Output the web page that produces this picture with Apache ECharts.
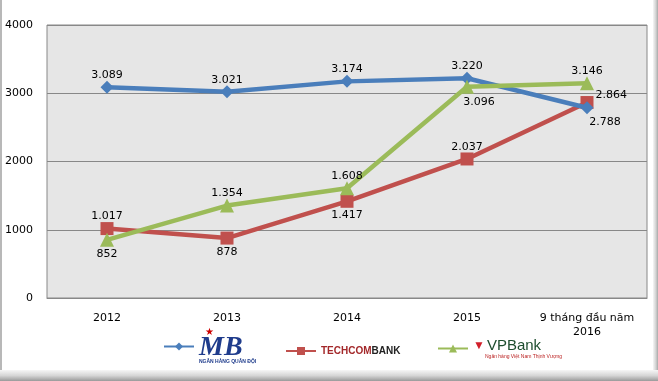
<!DOCTYPE html>
<html>
<head>
<meta charset="utf-8">
<script src="https://cdn.jsdelivr.net/npm/echarts@6/dist/echarts.min.js"></script>
<style>
html,body{margin:0;padding:0;background:#fff;}
#c{width:658px;height:381px;}
</style>
</head>
<body>
<div id="c"></div>
<script>
const categories = ['2012', '2013', '2014', '2015', '9 tháng đầu năm\n2016'];
const mbValues = [3089, 3021, 3174, 3220, 2788];
const tcbValues = [1017, 878, 1417, 2037, 2864];
const vpbValues = [852, 1354, 1608, 3096, 3146];
const yTicks = [0, 1000, 2000, 3000, 4000];

// label placement (style only)
const mbLabelPos = [['top',[0,2]],['top',[0,2]],['top',[0,2]],['top',[0,2]],['bottom',[18,0]]];
const tcbLabelPos = [['top',[0,2]],['bottom',[0,0]],['bottom',[0,0]],['top',[0,2]],['right',[0,-7]]];
const vpbLabelPos = [['bottom',[0,0]],['top',[0,2]],['top',[0,2]],['bottom',[12,1]],['top',[0,2]]];

function fmt(v){ return String(v).replace(/\B(?=(\d{3})+(?!\d))/g, '.'); }
function build(values, pos){
  return values.map((v,i)=>({value:v,label:{position:pos[i][0],offset:pos[i][1]}}));
}
const FONT = 'DejaVu Sans';
const labelStyle = {show:true, formatter:p=>fmt(p.value), color:'#000', fontFamily:FONT, fontSize:11, distance:2};

const chart = echarts.init(document.getElementById('c'), null, {renderer:'canvas'});
chart.setOption({
  animation:false,
  backgroundColor:'#fff',
  grid:{left:47, right:11, top:25, bottom:83, show:true, backgroundColor:'#e6e6e6', borderColor:'#888', borderWidth:1},
  xAxis:{type:'category', data:categories, boundaryGap:true,
    axisLine:{show:true, lineStyle:{color:'#888'}}, axisTick:{show:false},
    axisLabel:{color:'#000', fontFamily:FONT, fontSize:11, margin:13, lineHeight:14, interval:0}},
  yAxis:{type:'value', min:yTicks[0], max:yTicks[yTicks.length-1], interval:1000,
    axisLine:{show:false}, axisTick:{show:false},
    axisLabel:{color:'#000', fontFamily:FONT, fontSize:11, margin:14, formatter:v=>String(v)},
    splitLine:{show:true, lineStyle:{color:'#888', width:1}}},
  legend:[
    {data:['MB'], left:163, top:327, padding:0, itemWidth:30, itemHeight:10, itemGap:3,
     formatter:()=>'{s|★}\n{mb|MB}\n{sub|NGÂN HÀNG QUÂN ĐỘI}',
     textStyle:{rich:{s:{color:'#c00',fontSize:10,align:'left',padding:[0,0,0,6],lineHeight:9},
       mb:{color:'#1f3c8c',fontSize:28,fontWeight:'bold',fontStyle:'italic',fontFamily:'Liberation Serif',lineHeight:22},
       sub:{color:'#1f3c8c',fontSize:5,fontWeight:'bold',lineHeight:7}}}},
    {data:['Techcombank'], left:285, top:346, padding:0, itemWidth:30, itemHeight:10, itemGap:4,
     formatter:()=>'{a|TECHCOM}{b|BANK}',
     textStyle:{rich:{a:{color:'#a3282a',fontSize:10,fontWeight:'bold',fontFamily:'Liberation Sans'},
       b:{color:'#222',fontSize:10,fontWeight:'bold',fontFamily:'Liberation Sans'}}}},
    {data:['VPBank'], left:437, top:338, padding:0, itemWidth:30, itemHeight:10, itemGap:4,
     formatter:()=>'{i|▼}{a|VPBank}\n{sub|Ngân hàng Việt Nam Thịnh Vượng}',
     textStyle:{rich:{i:{color:'#d11f2a',fontSize:12,padding:[0,2,0,0]},a:{color:'#1d4d2e',fontSize:15,fontFamily:'Liberation Sans',lineHeight:16},
       sub:{color:'#b22',fontSize:5,lineHeight:6,padding:[0,0,0,12]}}}}
  ],
  series:[
    {name:'MB', type:'line', data:build(mbValues, mbLabelPos), symbol:'diamond', symbolSize:13,
     itemStyle:{color:'#4a7ebb'}, lineStyle:{width:4.5, color:'#4a7ebb'}, label:labelStyle, z:3},
    {name:'Techcombank', type:'line', data:build(tcbValues, tcbLabelPos), symbol:'rect', symbolSize:13,
     itemStyle:{color:'#c0504d'}, lineStyle:{width:4.5, color:'#c0504d'}, label:labelStyle, z:2},
    {name:'VPBank', type:'line', data:build(vpbValues, vpbLabelPos), symbol:'triangle', symbolSize:14,
     itemStyle:{color:'#9bbb59'}, lineStyle:{width:4.5, color:'#9bbb59'}, label:labelStyle, z:4}
  ],
  graphic:[
    {type:'rect', shape:{x:0,y:0,width:2,height:381}, style:{fill:'#b8b8b8'}, silent:true},
    {type:'rect', shape:{x:653,y:0,width:5,height:381}, style:{fill:new echarts.graphic.LinearGradient(0,0,1,0,[{offset:0,color:'#f6f6f6'},{offset:0.6,color:'#d0d0d0'},{offset:1,color:'#a8a8a8'}])}, silent:true},
    {type:'rect', shape:{x:0,y:370,width:658,height:11}, style:{fill:new echarts.graphic.LinearGradient(0,0,0,1,[{offset:0,color:'#f6f6f6'},{offset:0.5,color:'#d6d6d6'},{offset:1,color:'#9a9a9a'}])}, silent:true}
  ]
});
</script>
</body>
</html>
